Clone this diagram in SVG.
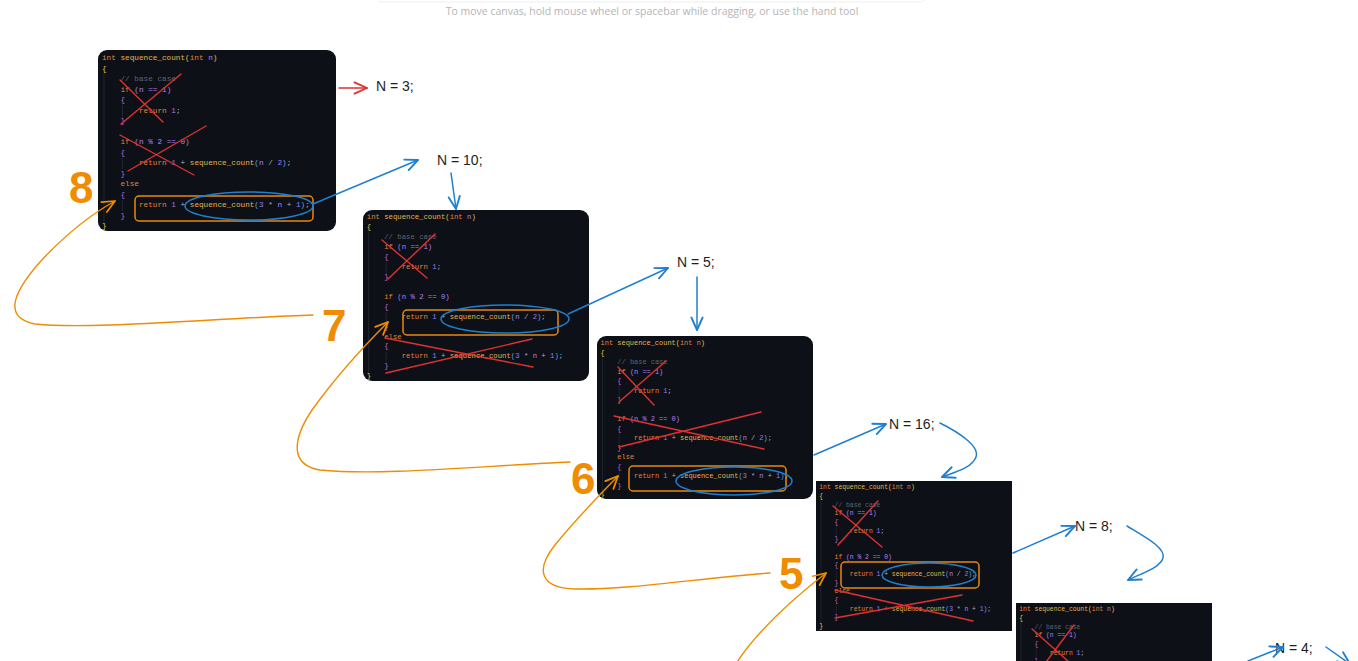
<svg xmlns="http://www.w3.org/2000/svg" xmlns:xlink="http://www.w3.org/1999/xlink" width="1358" height="661" viewBox="0 0 1358 661">
<style>
.code{font-family:"Liberation Mono","DejaVu Sans Mono",monospace;font-size:7.7px;fill:#a8b0c0}
.k{fill:#e0823d}.f{fill:#e6b450}.y{fill:#e6c547}.p{fill:#b084f5}.n{fill:#8f7cf7}.c{fill:#5c6370}.b{fill:#c062d6}.o{fill:#a8b0c0}.cb{fill:#5aa8f0}
.bg{fill:#0d1117}
.guide{stroke:#262c36;stroke-width:0.8}
.x{stroke:#e03131;stroke-width:1.4;fill:none;stroke-linecap:round}
.hl{fill:none;stroke:#e8890c;stroke-width:1.5}
.el{fill:none;stroke:#1f7fd0;stroke-width:1.5}
.ab{fill:none;stroke:#1f7fd0;stroke-width:1.5;stroke-linecap:round;marker-end:url(#mB)}
.ao{fill:none;stroke:#f08c00;stroke-width:1.4;stroke-linecap:round;marker-end:url(#mO)}
.ar{fill:none;stroke:#e03131;stroke-width:1.5;stroke-linecap:round;marker-end:url(#mR)}
.lbl{font-family:"Liberation Sans","DejaVu Sans",sans-serif;font-size:14px;fill:#1e1e1e}
.num{font-family:"Liberation Sans","DejaVu Sans",sans-serif;font-size:44px;font-weight:bold;fill:#f08c00}
</style>
<defs>
<marker id="mB" markerUnits="userSpaceOnUse" markerWidth="20" markerHeight="20" refX="0" refY="0" viewBox="-12 -8 16 16" orient="auto" overflow="visible"><path d="M-10,-4.5 L0,0 L-10,4.5" fill="none" stroke="#1f7fd0" stroke-width="1.5" stroke-linecap="round" stroke-linejoin="round"/></marker>
<marker id="mO" markerUnits="userSpaceOnUse" markerWidth="20" markerHeight="20" refX="0" refY="0" viewBox="-12 -8 16 16" orient="auto" overflow="visible"><path d="M-10,-4.5 L0,0 L-10,4.5" fill="none" stroke="#f08c00" stroke-width="1.4" stroke-linecap="round" stroke-linejoin="round"/></marker>
<marker id="mR" markerUnits="userSpaceOnUse" markerWidth="20" markerHeight="20" refX="0" refY="0" viewBox="-12 -8 16 16" orient="auto" overflow="visible"><path d="M-10,-4.5 L0,0 L-10,4.5" fill="none" stroke="#e03131" stroke-width="1.5" stroke-linecap="round" stroke-linejoin="round"/></marker>
<g id="code" class="code">
<line class="guide" x1="6" y1="23" x2="6" y2="175"/>
<line class="guide" x1="24.5" y1="55" x2="24.5" y2="69"/>
<line class="guide" x1="24.5" y1="108" x2="24.5" y2="119"/>
<line class="guide" x1="24.5" y1="150" x2="24.5" y2="161"/>
<text x="4" y="10"><tspan class="k">int</tspan><tspan class="f"> sequence_count</tspan><tspan class="y">(</tspan><tspan class="k">int</tspan><tspan class="p"> n</tspan><tspan class="y">)</tspan></text>
<text x="4" y="20.5" class="y">{</text>
<text x="22.5" y="31" class="c">// base case</text>
<text x="22.5" y="41.5"><tspan class="k">if</tspan><tspan class="p"> (n == 1)</tspan></text>
<text x="22.5" y="52" class="b">{</text>
<text x="41" y="62.5"><tspan class="k">return</tspan><tspan class="n"> 1</tspan><tspan class="o">;</tspan></text>
<text x="22.5" y="73" class="b">}</text>
<text x="22.5" y="94"><tspan class="k">if</tspan><tspan class="p"> (n % 2 == 0)</tspan></text>
<text x="22.5" y="104.5" class="b">{</text>
<text x="41" y="115"><tspan class="k">return</tspan><tspan class="n"> 1</tspan><tspan class="o"> +</tspan><tspan class="f"> sequence_count</tspan><tspan class="cb">(</tspan><tspan class="p">n</tspan><tspan class="o"> /</tspan><tspan class="n"> 2</tspan><tspan class="cb">)</tspan><tspan class="o">;</tspan></text>
<text x="22.5" y="125.5" class="b">}</text>
<text x="22.5" y="136" class="k">else</text>
<text x="22.5" y="146.5" class="b">{</text>
<text x="41" y="157"><tspan class="k">return</tspan><tspan class="n"> 1</tspan><tspan class="o"> +</tspan><tspan class="f"> sequence_count</tspan><tspan class="cb">(</tspan><tspan class="n">3</tspan><tspan class="o"> *</tspan><tspan class="p"> n</tspan><tspan class="o"> +</tspan><tspan class="n"> 1</tspan><tspan class="cb">)</tspan><tspan class="o">;</tspan></text>
<text x="22.5" y="167.5" class="b">}</text>
<text x="4" y="178" class="y">}</text>
</g>
</defs>
<rect width="1358" height="661" fill="#ffffff"/>
<g id="hint">
<rect x="376" y="-12" width="550" height="14" rx="6" fill="#ffffff" stroke="#efefef"/>
<text x="652" y="15" text-anchor="middle" font-family="'Open Sans','Liberation Sans',sans-serif" font-size="10.5" fill="#b5b5b5">To move canvas, hold mouse wheel or spacebar while dragging, or use the hand tool</text>
</g>
<g id="box1">
<rect class="bg" x="98" y="50" width="238" height="181" rx="9"/>
<use xlink:href="#code" href="#code" transform="translate(98,50)"/>
<path class="x" d="M120,80 L163,122 M181,74 L121,124 M120,135 L194,175 M206,126 L128,171"/>
<rect class="hl" x="135" y="196" width="178" height="25" rx="4"/>
<ellipse class="el" cx="249" cy="206" rx="64" ry="14"/>
</g>
<g id="box2">
<rect class="bg" x="363" y="210" width="226" height="171" rx="9"/>
<use xlink:href="#code" href="#code" transform="translate(363,210) scale(0.945)"/>
<path class="x" d="M382,240 L427,278 M435,234 L388,279 M385,338 L533,367 M386,373 L532,339"/>
<rect class="hl" x="403" y="310" width="155" height="25" rx="4"/>
<ellipse class="el" cx="505" cy="319" rx="64" ry="14"/>
</g>
<g id="box3">
<rect class="bg" x="597" y="336" width="216" height="163" rx="9"/>
<use xlink:href="#code" href="#code" transform="translate(597,336) scale(0.905)"/>
<path class="x" d="M618,367 L654,405 M666,361 L619,402 M614,416 L764,449 M761,412 L619,447"/>
<rect class="hl" x="629" y="466" width="157" height="25" rx="4"/>
<ellipse class="el" cx="734" cy="481" rx="58" ry="14"/>
</g>
<g id="box4">
<rect class="bg" x="816" y="481" width="196" height="150"/>
<use xlink:href="#code" href="#code" transform="translate(816,481) scale(0.826)"/>
<path class="x" d="M833,506 L882,547 M878,501 L838,545 M835,590 L973,621 M962,595 L835,618"/>
<rect class="hl" x="841" y="562" width="138" height="26" rx="4"/>
<ellipse class="el" cx="929" cy="575" rx="47" ry="12"/>
</g>
<g id="box5">
<rect class="bg" x="1016" y="603" width="196" height="70"/>
<use xlink:href="#code" href="#code" transform="translate(1016,603) scale(0.826)"/>
<path class="x" d="M1032,629 L1069,662 M1074,625 L1046,662"/>
</g>
<g id="labels">
<text class="lbl" x="376" y="91">N = 3;</text>
<text class="lbl" x="437" y="165">N = 10;</text>
<text class="lbl" x="677" y="267">N = 5;</text>
<text class="lbl" x="889" y="429">N = 16;</text>
<text class="lbl" x="1075" y="531">N = 8;</text>
<text class="lbl" x="1275" y="653">N = 4;</text>
<text class="num" x="69" y="203">8</text>
<text class="num" x="322" y="341">7</text>
<text class="num" x="571" y="494">6</text>
<text class="num" x="779" y="589">5</text>
</g>
<g id="connectors">
<path class="ar" d="M339,88 L367,88"/>
<path class="ab" d="M313,204 L418,160"/>
<path class="ab" d="M451,173 L456,209"/>
<path class="ab" d="M568,314 L668,268"/>
<path class="ab" d="M697,277 L697,330"/>
<path class="ab" d="M814,455 L886,424"/>
<path class="ab" d="M940,423 C958,432 980,446 976,457 C972,468 955,472 942,477"/>
<path class="ab" d="M1013,553 L1075,526"/>
<path class="ab" d="M1127,526 C1145,537 1166,548 1163,558 C1160,568 1142,573 1128,580"/>
<path class="ab" d="M1248,661 L1283,647"/>
<path class="ab" d="M1326,647 L1350,664"/>
<path class="ao" d="M313,315 C220,318 90,330 35,324 C5,318 10,296 40,262 C65,235 90,215 115,201"/>
<path class="ao" d="M570,462 C480,466 380,476 320,470 C290,465 292,440 312,410 C335,378 360,350 388,322"/>
<path class="ao" d="M770,573 C700,578 630,590 575,589 C540,588 535,570 555,545 C575,520 595,500 618,476"/>
<path class="ao" d="M737,662 C755,635 785,605 826,573"/>
</g>
</svg>
